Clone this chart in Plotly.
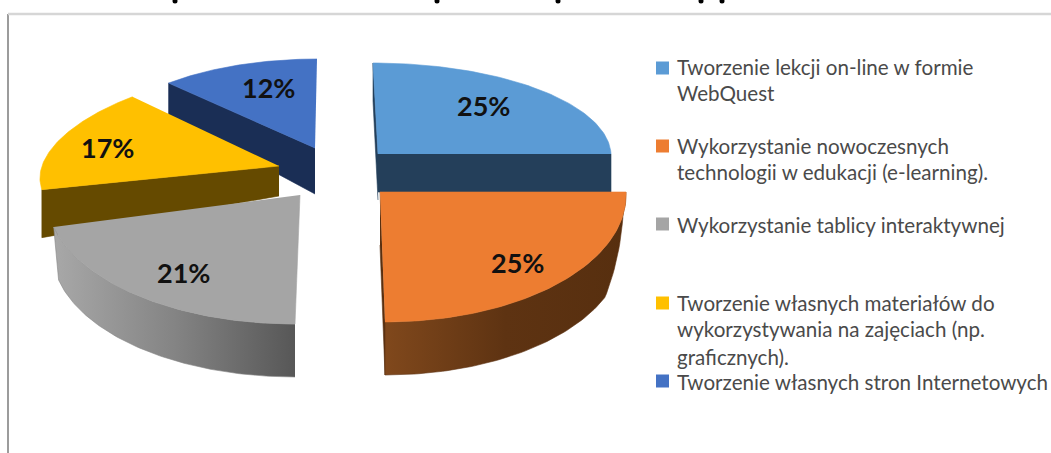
"""Wykres kołowy 3D (rozsunięty) odtworzony w Plotly."""

import numpy as np
import plotly.graph_objects as go

WIDTH, HEIGHT = 1051, 453

values = [25, 25, 21, 17, 12]
top_colors = ["#5B9BD5", "#ED7D31", "#A5A5A5", "#FFC000", "#4472C4"]
legend_lines = [
    ["Tworzenie lekcji on-line w formie", "WebQuest"],
    ["Wykorzystanie nowoczesnych", "technologii w edukacji (e-learning)."],
    ["Wykorzystanie tablicy interaktywnej"],
    ["Tworzenie własnych materiałów do", "wykorzystywania na zajęciach (np.", "graficznych)."],
    ["Tworzenie własnych stron Internetowych"],
]

# geometria wycinków w pikselach: środek, promienie, pochylenie, zwężenie
wedges = [
    {"cx": 378, "cy": 154, "rx": 233, "ry": 91, "lean": 5, "taper": 0, "lab": (483, 105),
     "walls": [(0, "#243F5A", 46, 38), (1, "#243F5A", 38, 38)]},
    {"cx": 380, "cy": 192, "rx": 246, "ry": 130, "lean": 5, "taper": 0, "lab": (517, 262),
     "walls": [(1, "#5A3010", 53, 53)],
     "outer": {"depth": 53, "k": 2.5, "rx_bottom": 0.99, "stops": ["#80481C", "#5E3312", "#572F0F"]}},
    {"cx": 300, "cy": 195, "rx": 253, "ry": 129, "lean": -5, "taper": 0, "lab": (183, 272),
     "walls": [],
     "outer": {"depth": 53, "k": 10, "rx_bottom": 0.98, "stops": ["#A8A8A8", "#848484", "#575757"]}},
    {"cx": 279, "cy": 166, "rx": 237, "ry": 95, "lean": 0, "taper": 0.133, "lab": (107, 147),
     "walls": [(0, "#654A00", 30, 48)]},
    {"cx": 315, "cy": 148, "rx": 216, "ry": 89, "lean": -2, "taper": 0, "lab": (268, 87),
     "walls": [(0, "#1A2E55", 46, 32)]},
]
draw_order = [0, 1, 4, 3, 2]

legend_y = [[67, 93], [146, 172], [225], [303, 329, 357], [382]]
swatch_y = [68, 146, 224, 303, 381]
title_tail_x = [175, 437, 558, 701, 722]


def rim(w, theta, rx_scale=1.0):
    """Punkty obwodu wycinka dla kątów liczonych od godziny 12 zgodnie z zegarem."""
    x = w["cx"] + rx_scale * w["rx"] * np.sin(theta) * (1 - w["taper"] * np.cos(theta)) - w["lean"] * np.cos(theta)
    y = w["cy"] - w["ry"] * np.cos(theta)
    return x, y


def add_poly(fig, x, y, color, gradient=None):
    style = {"fillcolor": color}
    if gradient:
        scale = [[i / (len(gradient) - 1), c] for i, c in enumerate(gradient)]
        style = {"fillgradient": {"type": "horizontal", "colorscale": scale}}
    fig.add_scatter(x=list(x), y=list(y), mode="lines", fill="toself", line={"width": 0.6, "color": color},
                    hoverinfo="skip", showlegend=False, **style)


fig = go.Figure()
edges = np.deg2rad(np.cumsum([0] + values) * 3.6)

for i in draw_order:
    w = wedges[i]
    start, end = edges[i], edges[i + 1]
    theta = np.linspace(start, end, 80)

    # ściany promieniowe
    for side, color, depth_center, depth_out in w["walls"]:
        ox, oy = rim(w, (start, end)[side])
        add_poly(fig, [w["cx"], ox, ox, w["cx"]], [w["cy"], oy, oy + depth_out, w["cy"] + depth_center], color)

    # ściana zewnętrzna z gradientem
    if "outer" in w:
        o = w["outer"]
        xt, yt = rim(w, theta)
        xb, yb = rim(w, theta, o["rx_bottom"])
        yb = yb + o["depth"] * np.minimum(1, o["k"] * np.abs(np.cos(theta)))
        add_poly(fig, np.r_[xt, xb[::-1]], np.r_[yt, yb[::-1]], o["stops"][1], gradient=o["stops"])

    # powierzchnia górna
    xa, ya = rim(w, theta)
    add_poly(fig, np.r_[w["cx"], xa], np.r_[w["cy"], ya], top_colors[i])

# ramka wykresu
fig.add_scatter(x=[8, 8], y=[14, HEIGHT], mode="lines", line={"color": "#9C9C9C", "width": 2},
                hoverinfo="skip", showlegend=False)
fig.add_scatter(x=[8, WIDTH], y=[14, 14], mode="lines", line={"color": "#D6D6D6", "width": 2.5},
                hoverinfo="skip", showlegend=False)

# końcówki liter tytułu uciętego przez górną krawędź (nieczytelne, więc tylko plamki)
fig.add_scatter(x=title_tail_x, y=[1] * len(title_tail_x), mode="markers",
                marker={"size": 5, "color": "#000000", "line": {"width": 0}},
                hoverinfo="skip", showlegend=False, cliponaxis=True)

# legenda
fig.add_scatter(x=[662.5] * len(values), y=swatch_y, mode="markers",
                marker={"symbol": "square", "size": 13, "color": top_colors, "line": {"width": 0}},
                hoverinfo="skip", showlegend=False)

annotations = []
for lines, ys in zip(legend_lines, legend_y):
    for text, y in zip(lines, ys):
        annotations.append({"x": 675, "y": y, "text": text, "xanchor": "left", "yanchor": "middle",
                            "showarrow": False, "font": {"family": "Lato", "size": 20.6, "color": "#4A4A4A"}})

for v, w in zip(values, wedges):
    annotations.append({"x": w["lab"][0], "y": w["lab"][1], "text": f"<b>{v}%</b>", "showarrow": False,
                        "font": {"family": "Lato", "size": 27, "color": "#111111"}})

fig.update_layout(
    width=WIDTH, height=HEIGHT, margin={"l": 0, "r": 0, "t": 0, "b": 0},
    paper_bgcolor="white", plot_bgcolor="white", annotations=annotations,
    xaxis={"range": [0, WIDTH], "visible": False, "fixedrange": True},
    yaxis={"range": [HEIGHT, 0], "visible": False, "fixedrange": True},
)

fig.write_html("out.html", config={"displayModeBar": False},
               post_script="document.body.style.margin='0';document.body.style.overflow='hidden';")
